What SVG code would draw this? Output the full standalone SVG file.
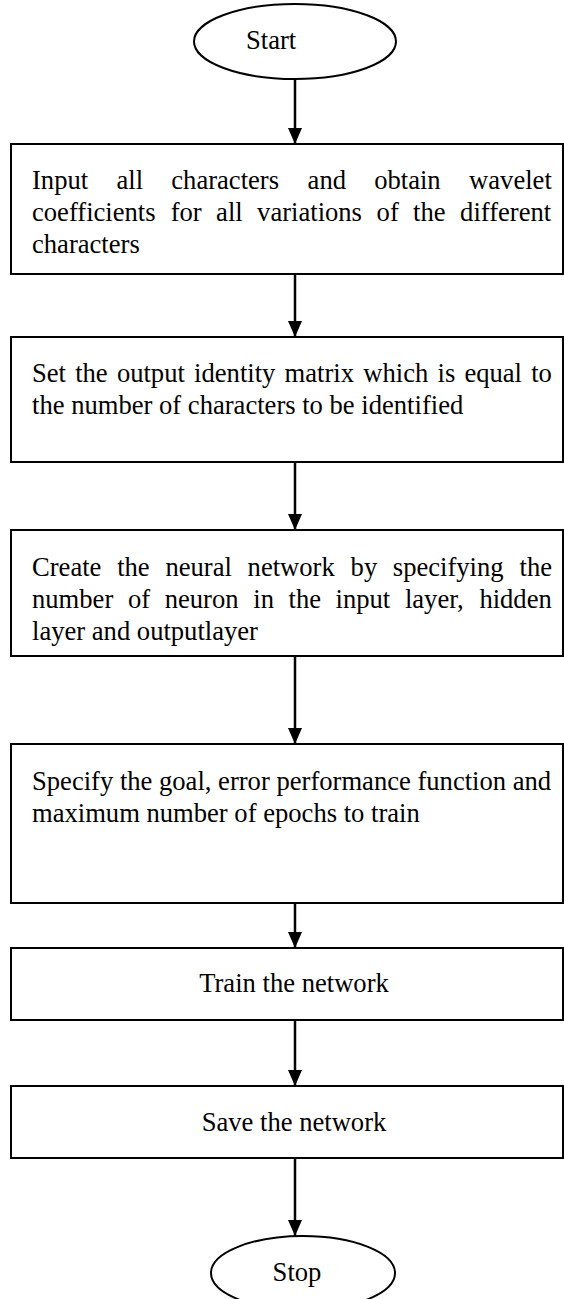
<svg xmlns="http://www.w3.org/2000/svg" width="564" height="1299" viewBox="0 0 564 1299">
<style>
.box{fill:#fff;stroke:#000;stroke-width:2}
.term{fill:#fff;stroke:#000;stroke-width:2}
.t{font-family:"Liberation Serif","Times New Roman",serif;font-size:26.6px;fill:#000}
.c{fill:none;stroke:#000;stroke-width:2.5}
</style>
<defs>
<marker id="ah" markerUnits="userSpaceOnUse" markerWidth="16" markerHeight="14" refX="16" refY="7" orient="auto">
<path d="M0,0 L16,7 L0,14 z" fill="#000"/>
</marker>
</defs>
<rect width="564" height="1299" fill="#fff"/>
<g id="connectors">
<line class="c" x1="295" y1="79" x2="295" y2="144" marker-end="url(#ah)"/>
<line class="c" x1="295" y1="274" x2="295" y2="337" marker-end="url(#ah)"/>
<line class="c" x1="295" y1="462" x2="295" y2="530" marker-end="url(#ah)"/>
<line class="c" x1="295" y1="656" x2="295" y2="744" marker-end="url(#ah)"/>
<line class="c" x1="295" y1="903" x2="295" y2="948" marker-end="url(#ah)"/>
<line class="c" x1="295" y1="1020" x2="295" y2="1086" marker-end="url(#ah)"/>
<line class="c" x1="295" y1="1158" x2="295" y2="1236" marker-end="url(#ah)"/>
</g>
<g id="start">
<ellipse class="term" cx="295" cy="41.5" rx="101" ry="37.5"/>
<text class="t" x="246" y="49">Start</text>
</g>
<g id="input">
<rect class="box" x="11" y="144" width="552" height="130"/>
<text class="t" y="189"><tspan x="32">Input</tspan><tspan x="116.5">all</tspan><tspan x="171.3">characters</tspan><tspan x="307.6">and</tspan><tspan x="374.2">obtain</tspan><tspan x="469.1">wavelet</tspan></text>
<text class="t" y="221"><tspan x="32">coefficients</tspan><tspan x="170.7">for</tspan><tspan x="216.1">all</tspan><tspan x="257.1">variations</tspan><tspan x="376.6">of</tspan><tspan x="413.1">the</tspan><tspan x="460.1">different</tspan></text>
<text class="t" x="32" y="253">characters</text>
</g>
<g id="identity">
<rect class="box" x="11" y="337" width="552" height="125"/>
<text class="t" y="382"><tspan x="32">Set</tspan><tspan x="75.2">the</tspan><tspan x="116.9">output</tspan><tspan x="194.1">identity</tspan><tspan x="284.6">matrix</tspan><tspan x="363.3">which</tspan><tspan x="437.5">is</tspan><tspan x="464.4">equal</tspan><tspan x="531.2">to</tspan></text>
<text class="t" x="32" y="414">the number of characters to be identified</text>
</g>
<g id="create">
<rect class="box" x="11" y="530" width="552" height="126"/>
<text class="t" y="576"><tspan x="32">Create</tspan><tspan x="117.2">the</tspan><tspan x="165.4">neural</tspan><tspan x="247.6">network</tspan><tspan x="350.6">by</tspan><tspan x="392.8">specifying</tspan><tspan x="519.5">the</tspan></text>
<text class="t" y="608"><tspan x="32">number</tspan><tspan x="128">of</tspan><tspan x="164.7">neuron</tspan><tspan x="253.3">in</tspan><tspan x="288.5">the</tspan><tspan x="335.6">input</tspan><tspan x="404.9">layer,</tspan><tspan x="479.4">hidden</tspan></text>
<text class="t" x="32" y="640">layer and outputlayer</text>
</g>
<g id="specify">
<rect class="box" x="11" y="744" width="552" height="159"/>
<text class="t" x="32" y="790">Specify the goal, error performance function and</text>
<text class="t" x="32" y="822">maximum number of epochs to train</text>
</g>
<g id="train">
<rect class="box" x="11" y="948" width="552" height="72"/>
<text class="t" x="294" y="992" text-anchor="middle">Train the network</text>
</g>
<g id="save">
<rect class="box" x="11" y="1086" width="552" height="72"/>
<text class="t" x="294" y="1131" text-anchor="middle">Save the network</text>
</g>
<g id="stop">
<ellipse class="term" cx="303" cy="1273" rx="92" ry="37"/>
<text class="t" x="297" y="1281" text-anchor="middle">Stop</text>
</g>
</svg>
